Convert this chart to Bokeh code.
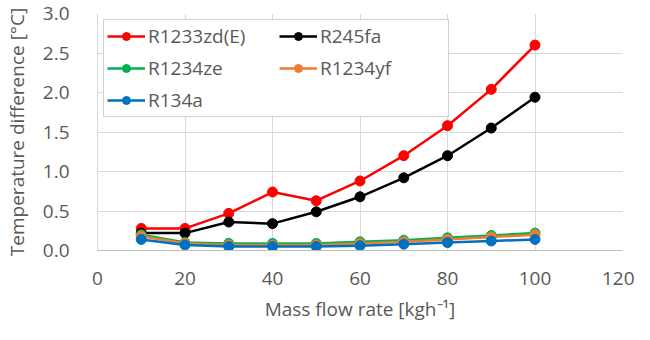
from bokeh.plotting import figure
from bokeh.models import Legend, LegendItem, FixedTicker, NumeralTickFormatter, Range1d
from bokeh.embed import file_html
from bokeh.resources import INLINE

flow = [10, 20, 30, 40, 50, 60, 70, 80, 90, 100]
r1233zd = [0.28, 0.28, 0.47, 0.74, 0.63, 0.88, 1.20, 1.58, 2.04, 2.60]
r245fa = [0.22, 0.22, 0.36, 0.34, 0.49, 0.68, 0.92, 1.20, 1.55, 1.94]
r1234ze = [0.20, 0.10, 0.09, 0.09, 0.09, 0.11, 0.13, 0.16, 0.19, 0.22]
r1234yf = [0.18, 0.09, 0.07, 0.07, 0.07, 0.09, 0.11, 0.14, 0.17, 0.20]
r134a = [0.14, 0.07, 0.05, 0.05, 0.05, 0.06, 0.08, 0.10, 0.12, 0.14]

series = [
    ("R1233zd(E)", r1233zd, "#ff0000"),
    ("R245fa", r245fa, "#000000"),
    ("R1234ze", r1234ze, "#00b050"),
    ("R1234yf", r1234yf, "#ed7d31"),
    ("R134a", r134a, "#0070c0"),
]
legend_order = ["R1233zd(E)", "R1234ze", "R134a", "R245fa", "R1234yf"]

FONT = "Open Sans"
GREY = "#595959"
FS = "19px"

p = figure(width=634, height=324, output_backend="svg", toolbar_location=None,
           x_range=Range1d(0, 120), y_range=Range1d(0, 3.0),
           min_border_left=84, min_border_right=12, min_border_top=13, min_border_bottom=70)
p.outline_line_color = None
p.background_fill_color = "white"
p.border_fill_color = "white"

items = {}
for name, ys, col in series:
    l = p.line(flow, ys, line_color=col, line_width=2.5)
    c = p.scatter(flow, ys, size=10, fill_color=col, line_color=col)
    items[name] = LegendItem(label=name, renderers=[l, c])

p.xaxis.ticker = FixedTicker(ticks=[0, 20, 40, 60, 80, 100, 120])
p.yaxis.ticker = FixedTicker(ticks=[0, 0.5, 1.0, 1.5, 2.0, 2.5, 3.0])
p.yaxis.formatter = NumeralTickFormatter(format="0.0")

for ax in [p.xaxis[0], p.yaxis[0]]:
    ax.major_label_text_font = FONT
    ax.major_label_text_font_size = FS
    ax.major_label_text_color = GREY
    ax.axis_label_text_font = FONT
    ax.axis_label_text_font_size = FS
    ax.axis_label_text_color = GREY
    ax.axis_label_text_font_style = "normal"
    ax.major_tick_line_color = None
    ax.minor_tick_line_color = None
    ax.axis_line_color = "#d9d9d9"

p.xaxis.axis_line_color = "#bfbfbf"
p.xaxis.axis_label = "Mass flow rate [kgh⁻¹]"
p.yaxis.axis_label = "Temperature difference [°C]"
p.xaxis.major_label_standoff = 15
p.xaxis.axis_label_standoff = 8
p.yaxis.major_label_standoff = 22
p.yaxis.axis_label_standoff = 10

p.xgrid.grid_line_color = "#d9d9d9"
p.ygrid.grid_line_color = "#d9d9d9"
p.xgrid.grid_line_width = 1
p.ygrid.grid_line_width = 1

legend = Legend(items=[items[n] for n in legend_order], location="top_left", ncols=2)
legend.label_text_font = FONT
legend.label_text_font_size = FS
legend.label_text_color = GREY
legend.glyph_width = 38
legend.glyph_height = 20
legend.label_standoff = 3
legend.spacing = 6
legend.padding = 3
legend.margin = 6
legend.border_line_color = "#a6a6a6"
legend.border_line_width = 1
legend.background_fill_alpha = 1.0
legend.label_width = 125
p.add_layout(legend)

open("out.html", "w").write(file_html(p, INLINE))
